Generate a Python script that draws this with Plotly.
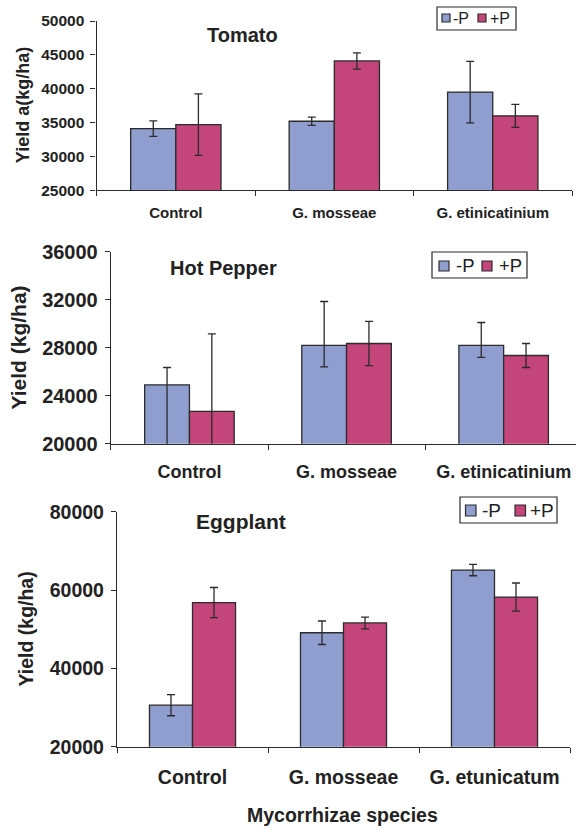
import plotly.graph_objects as go

W, H = 576, 829

# ---------------- data ----------------
categories_top = ["Control", "G. mosseae", "G. etinicatinium"]
categories_bottom = ["Control", "G. mosseae", "G. etunicatum"]
series_names = ["-P", "+P"]

tomato_minus = [34100, 35200, 39500]
tomato_minus_err = [1150, 620, 4550]
tomato_plus = [34700, 44100, 36000]
tomato_plus_err = [4550, 1200, 1700]

pepper_minus = [24900, 28200, 28200]
pepper_minus_err_up = [1450, 3650, 1900]
pepper_minus_err_down = [6000, 1800, 1000]
pepper_plus = [22700, 28350, 27350]
pepper_plus_err = [6450, 1850, 1000]

eggplant_minus = [30600, 49100, 65100]
eggplant_minus_err = [2700, 3000, 1450]
eggplant_plus = [56800, 51600, 58200]
eggplant_plus_err = [3850, 1500, 3600]

# ---------------- style ----------------
COL_MINUS = "#8F9ECF"
COL_PLUS = "#C4457A"
DARK = "#2b2b2b"
FONT = "Arial, Liberation Sans, sans-serif"


def px(x):
    return x / W


def py(y):
    return 1 - y / H


fig = go.Figure()


def add_pair(cats, minus, minus_up, minus_dn, plus, plus_up, plus_dn, ax):
    for name, vals, up, dn, col in [
        (series_names[0], minus, minus_up, minus_dn, COL_MINUS),
        (series_names[1], plus, plus_up, plus_dn, COL_PLUS),
    ]:
        fig.add_trace(go.Bar(
            x=cats, y=vals, name=name, showlegend=False,
            marker=dict(color=col, line=dict(color=DARK, width=1.3)),
            error_y=dict(type="data", array=up, arrayminus=dn, symmetric=False,
                         color=DARK, thickness=1.3, width=4),
            xaxis="x" + ax, yaxis="y" + ax,
        ))


add_pair(categories_top, tomato_minus, tomato_minus_err, tomato_minus_err,
         tomato_plus, tomato_plus_err, tomato_plus_err, "")
add_pair(categories_top, pepper_minus, pepper_minus_err_up, pepper_minus_err_down,
         pepper_plus, pepper_plus_err, pepper_plus_err, "2")
add_pair(categories_bottom, eggplant_minus, eggplant_minus_err, eggplant_minus_err,
         eggplant_plus, eggplant_plus_err, eggplant_plus_err, "3")


def xax(dom, anchor, rng, fsize, standoff):
    return dict(domain=dom, anchor=anchor, type="category", range=rng,
                tickson="boundaries", ticks="outside", ticklen=5, tickwidth=1.3,
                tickcolor=DARK, showline=True, linecolor=DARK, linewidth=1.3,
                showgrid=False, zeroline=False, ticklabelstandoff=standoff,
                automargin=False, fixedrange=True,
                tickfont=dict(family=FONT, size=fsize, color="#222", weight="bold"))


def yax(dom, anchor, rng, dtick, fsize, standoff):
    return dict(domain=dom, anchor=anchor, range=rng, dtick=dtick, tick0=rng[0],
                tickformat="d", ticks="outside", ticklen=5, tickwidth=1.3,
                tickcolor=DARK, showline=True, linecolor=DARK, linewidth=1.3,
                showgrid=False, zeroline=False, ticklabelstandoff=standoff,
                automargin=False, fixedrange=True,
                tickfont=dict(family=FONT, size=fsize, color="#222", weight="bold"))


layout = dict(
    width=W, height=H, autosize=False,
    margin=dict(l=0, r=0, t=0, b=0, pad=0, autoexpand=False),
    paper_bgcolor="white", plot_bgcolor="white",
    barmode="group", bargap=0.43, bargroupgap=0,
    showlegend=False,
    xaxis=xax([px(96.6), px(572)], "y", [-0.5, 2.5], 15, 9),
    yaxis=yax([py(190.3), py(21)], "x", [25000, 50000], 5000, 15.5, 3),
    xaxis2=xax([px(110.9), 1.0], "y2", [-0.5, -0.5 + (576 - 110.9) / 157.1], 18, 12),
    yaxis2=yax([py(443.7), py(251.7)], "x2", [20000, 36000], 4000, 20, 3),
    xaxis3=xax([px(117), px(570)], "y3", [-0.5, 2.5], 19.5, 13),
    yaxis3=yax([py(746.7), py(511.7)], "x3", [20000, 80000], 20000, 19.5, 3),
)
fig.update_layout(**layout)

annotations = []


def txt(text, x, y, size, bold=True, angle=0, xanchor="center"):
    annotations.append(dict(
        text=text, x=px(x), y=py(y), xref="paper", yref="paper",
        showarrow=False, textangle=angle, xanchor=xanchor, yanchor="middle",
        font=dict(family=FONT, size=size, color="#222",
                  weight="bold" if bold else "normal"),
    ))


# panel titles
txt("Tomato", 242.5, 35, 20)
txt("Hot Pepper", 223.8, 268, 20)
txt("Eggplant", 240.5, 521, 21)

# y titles
txt("Yield a(kg/ha)", 22.5, 105.7, 18, angle=-90)
txt("Yield (kg/ha)", 18, 347.5, 21, angle=-90)
txt("Yield (kg/ha)", 25, 629.5, 19.5, angle=-90)

# x title
txt("Mycorrhizae species", 342.5, 815, 19.5)

# manual legends (box, swatches, labels)
shapes = []


def legend(box, sw1, sw2, t1, t2, ymid, fsize):
    shapes.append(dict(type="rect", xref="paper", yref="paper",
                       x0=px(box[0]), x1=px(box[1]), y0=py(box[3]), y1=py(box[2]),
                       line=dict(color=DARK, width=1.2), fillcolor="white"))
    for (x0, x1, y0, y1), col in [(sw1, COL_MINUS), (sw2, COL_PLUS)]:
        shapes.append(dict(type="rect", xref="paper", yref="paper",
                           x0=px(x0), x1=px(x1), y0=py(y1), y1=py(y0),
                           line=dict(color=DARK, width=1.2), fillcolor=col))
    txt(series_names[0], t1, ymid, fsize, bold=False, xanchor="left")
    txt(series_names[1], t2, ymid, fsize, bold=False, xanchor="left")


legend((437, 516, 7, 30), (442, 450, 14, 22), (478, 486, 14, 22), 451, 487.5, 18.5, 16)
legend((432, 527, 252, 278), (439, 449, 261, 271), (482, 492, 261, 271), 453.5, 496.5, 266, 18.5)
legend((460, 557, 497, 523), (465.5, 476, 505, 516), (515, 525.5, 505, 516), 479.5, 527.5, 510.5, 19)

fig.update_layout(annotations=annotations, shapes=shapes)

fig.write_html(
    "out.html",
    config={"displayModeBar": False, "responsive": False},
    post_script="document.body.style.margin='0';document.body.style.padding='0';",
)
